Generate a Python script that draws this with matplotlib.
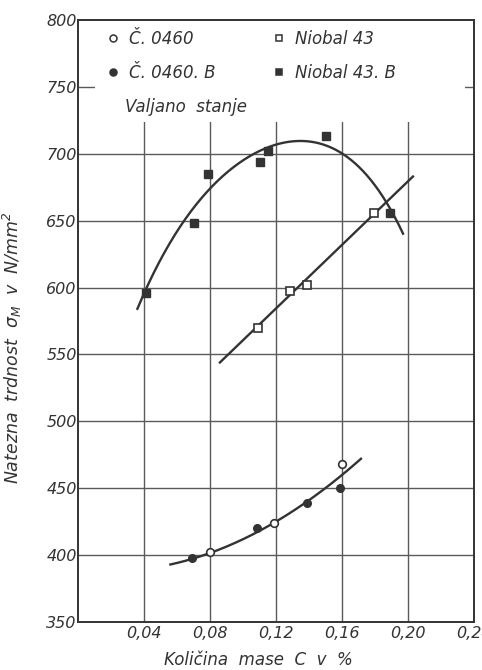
import numpy as np
import matplotlib
matplotlib.use("Agg")
import matplotlib.pyplot as plt
from matplotlib.lines import Line2D
from matplotlib.patches import Rectangle

# ---------------- data ----------------
# Č. 0460 (open circles)
c0460_x = [0.080, 0.119, 0.160]
c0460_y = [402, 424, 468]
# Č. 0460. B (filled circles)
c0460b_x = [0.069, 0.1085, 0.139, 0.159]
c0460b_y = [398, 420, 439, 450.5]
# Niobal 43 (open squares)
n43_x = [0.109, 0.1285, 0.139, 0.1795]
n43_y = [570, 597.5, 602, 656]
# Niobal 43. B (filled squares)
n43b_x = [0.041, 0.070, 0.079, 0.110, 0.115, 0.150, 0.189]
n43b_y = [596, 648, 685, 694, 702, 713, 656]

# hand-drawn trend curves
c0460_curve_x = [0.056, 0.080, 0.100, 0.120, 0.140, 0.160, 0.1715]
c0460_curve_y = [393, 401.5, 412, 425, 441, 460, 472]
n43_curve_x = [0.086, 0.203]
n43_curve_y = [544, 683]
n43b_curve_x = [0.036, 0.041, 0.064, 0.080, 0.107, 0.135, 0.162, 0.186, 0.197]
n43b_curve_y = [585, 597, 650, 674, 700, 709, 700, 664, 641]

xticks = [0.04, 0.08, 0.12, 0.16, 0.20, 0.24]
xtick_labels = ["0,04", "0,08", "0,12", "0,16", "0,20", "0,24"]
yticks = [350, 400, 450, 500, 550, 600, 650, 700, 750, 800]

labels = ["Č. 0460", "Č. 0460. B", "Niobal 43", "Niobal 43. B"]

# ---------------- style ----------------
INK = "#333333"
GRID = "#5a5a5a"
plt.rcParams["font.family"] = ["DejaVu Sans"]
plt.rcParams["font.style"] = "italic"
plt.rcParams["mathtext.default"] = "it"

fig = plt.figure(figsize=(4.82, 6.70), dpi=100)
ax = fig.add_axes([78 / 482, 48 / 670, 396 / 482, 602 / 670])

ax.set_xlim(0, 0.24)
ax.set_ylim(350, 800)

# grid
for x in xticks[:-1]:
    ax.axvline(x, color=GRID, lw=1.0, zorder=0.5)
for y in yticks[1:-1]:
    ax.axhline(y, color=GRID, lw=1.0, zorder=0.5)

# white area behind legend (hides grid there)
ax.add_patch(Rectangle((0.043, 0.831), 0.934, 0.169, transform=ax.transAxes,
                       facecolor="white", edgecolor="none", zorder=1))


def smooth(xs, ys, deg):
    p = np.polyfit(xs, ys, deg)
    xx = np.linspace(min(xs), max(xs), 200)
    return xx, np.polyval(p, xx)


lw_curve = 1.7
xx, yy = smooth(c0460_curve_x, c0460_curve_y, 3)
ax.plot(xx, yy, color=INK, lw=lw_curve, zorder=3)
ax.plot(n43_curve_x, n43_curve_y, color=INK, lw=lw_curve, zorder=3)
xx, yy = smooth(n43b_curve_x, n43b_curve_y, 4)
ax.plot(xx, yy, color=INK, lw=lw_curve, zorder=3)

ms = 5.5
ax.plot(c0460_x, c0460_y, "o", ms=ms, mfc="white", mec=INK, mew=1.2, zorder=4, ls="none")
ax.plot(c0460b_x, c0460b_y, "o", ms=ms, mfc=INK, mec=INK, mew=1.0, zorder=4, ls="none")
ax.plot(n43_x, n43_y, "s", ms=ms, mfc="white", mec=INK, mew=1.2, zorder=4, ls="none")
ax.plot(n43b_x, n43b_y, "s", ms=ms, mfc=INK, mec=INK, mew=1.0, zorder=4, ls="none")

# ticks
ax.set_xticks(xticks)
ax.set_xticklabels(xtick_labels)
ax.set_yticks(yticks)
ax.tick_params(axis="both", length=0, labelsize=11.5, labelcolor=INK)
ax.tick_params(axis="x", pad=3)
ax.tick_params(axis="y", pad=1)

for sp in ax.spines.values():
    sp.set_color(INK)
    sp.set_linewidth(1.4)

ax.set_xlabel("Količina  mase  C  v  %", fontsize=12, color=INK)
ax.xaxis.set_label_coords(0.455, -0.048)
ax.set_ylabel(r"Natezna  trdnost  $\sigma_M$  v  N/mm$^2$", fontsize=12.5, color=INK)
ax.yaxis.set_label_coords(-0.136, 0.455)

# legend
markers = ["o", "o", "s", "s"]
fills = ["white", INK, "white", INK]
handles = [Line2D([], [], marker=m, ls="none", ms=5, mfc=f, mec=INK, mew=1.1)
           for m, f in zip(markers, fills)]
leg = ax.legend(handles, labels, ncol=2, loc="upper left",
                bbox_to_anchor=(0.055, 0.992), frameon=False, fontsize=12,
                handlelength=1.0, handletextpad=0.45, columnspacing=3.3,
                labelspacing=0.95, borderaxespad=0.0, borderpad=0.3)
for t in leg.get_texts():
    t.set_color(INK)
ax.text(0.118, 0.855, "Valjano  stanje", transform=ax.transAxes,
        fontsize=12, color=INK, ha="left", va="center", zorder=6)

fig.savefig("out.png", dpi=100, facecolor="white")
